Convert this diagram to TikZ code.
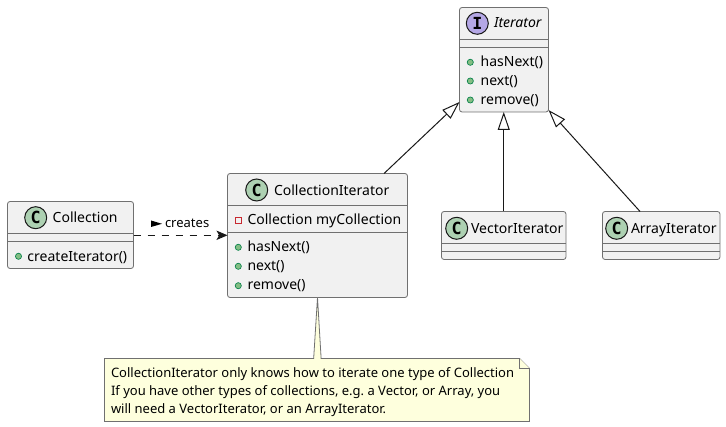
\documentclass[tikz,border=0pt]{standalone}
\usepackage{fontspec}
\setmainfont{Noto Sans}
\newfontfamily\glyphfont{DejaVu Sans Mono}
\usetikzlibrary{arrows.meta,calc}
\frenchspacing
\definecolor{boxfill}{HTML}{F1F1F1}
\definecolor{ln}{HTML}{181818}
\definecolor{bord}{HTML}{707070}
\definecolor{cgreen}{HTML}{ADD1B2}
\definecolor{ipurple}{HTML}{B4A7E5}
\definecolor{dotfill}{HTML}{84BE84}
\definecolor{dotline}{HTML}{038048}
\definecolor{privred}{HTML}{C82930}
\definecolor{notefill}{HTML}{FEFFDD}
\tikzset{
 x=0.75pt,y=-0.75pt,
 cbox/.style={draw=bord,fill=boxfill,line width=.6pt,rounded corners=1.9pt,inner sep=0,outer sep=0,rectangle},
 divider/.style={draw=bord,line width=.6pt},
 title/.style={anchor=base west,inner sep=0,outer sep=0,font=\fontsize{10.5pt}{12pt}\selectfont,text=black},
 member/.style={title},
 glyph/.style={circle,draw=ln,line width=.75pt,minimum size=16.5pt,inner sep=0,outer sep=0,font=\glyphfont\fontsize{12.5pt}{12pt}\selectfont\bfseries},
 pub/.style={circle,draw=dotline,fill=dotfill,line width=.5pt,minimum size=4.6pt,inner sep=0,outer sep=0},
 priv/.style={rectangle,draw=privred,line width=.6pt,minimum size=4.4pt,inner sep=0,outer sep=0},
 inh/.style={draw=ln,line width=.75pt,-{Triangle[open,fill=white,length=13.5pt,width=9pt,line width=.75pt]}},
 dep/.style={draw=ln,line width=.75pt,dash pattern=on 5.25pt off 5.25pt,-{Stealth[length=8.25pt,width=7pt,inset=2pt]}},
 notebox/.style={draw=bord,fill=notefill,line width=.6pt},
 notetext/.style={anchor=base west,inner sep=0,outer sep=0,font=\fontsize{9.75pt}{12pt}\selectfont,text=black},
}
\begin{document}
\begin{tikzpicture}
\useasboundingbox (0,0) rectangle (726,427);
\node[cbox,minimum width=180*0.75pt,minimum height=124*0.75pt] (citer) at (317.5,235.5) {};
\node[inner sep=0,outer sep=0,minimum size=0pt] (noteanchor) at (317.4,358.5) {};
\filldraw[notebox] (citer.south) -- ([xshift=2.8pt]noteanchor.center) -- (519.5,358.5) -- (529.5,368.5) -- (529.5,421.5) -- (104.5,421.5) -- (104.5,358.5) -- ([xshift=-2.8pt]noteanchor.center) -- cycle;
\draw[notebox] (519.5,358.5) -- (519.5,368.5) -- (529.5,368.5);
\node[notetext] (n1) at (111,377.7) {CollectionIterator only knows how to iterate one type of Collection};
\node[notetext] (n2) at (111,395.7) {If you have other types of collections, e.g. a Vector, or Array, you};
\node[notetext] (n3) at (111,413.4) {will need a VectorIterator, or an ArrayIterator.};
\node[cbox,minimum width=89*0.75pt,minimum height=104.5*0.75pt] (iter) at (504,59.75) {};
\node[cbox,minimum width=126*0.75pt,minimum height=67*0.75pt] (coll) at (70.5,235) {};
\node[cbox,minimum width=124.5*0.75pt,minimum height=48*0.75pt] (vec) at (503.75,235.5) {};
\node[cbox,minimum width=117.5*0.75pt,minimum height=48*0.75pt] (arr) at (661.25,235.5) {};
\foreach \n/\y in {iter/39.5,iter/47.5,coll/233.3,coll/241.3,citer/205.7,citer/232.3,vec/243.3,vec/251.3,arr/243.3,arr/251.3}
  \draw[divider] (\n.west |- 0,\y) -- (\n.east |- 0,\y);
\node[glyph,fill=ipurple] (gi) at (477.3,23.3) {I};
\node[glyph,fill=cgreen] (gc) at (35.7,217.7) {C};
\node[glyph,fill=cgreen] (gci) at (256.7,190) {C};
\node[glyph,fill=cgreen] (gv) at (456.7,228.3) {C};
\node[glyph,fill=cgreen] (ga) at (616.7,228.3) {C};
\node[title,font=\fontsize{10.5pt}{12pt}\selectfont\itshape] (ti) at (494,28) {Iterator};
\node[title] (tc) at (52.7,223) {Collection};
\node[title] (tci) at (274,195.7) {CollectionIterator};
\node[title] (tv) at (471,233.3) {VectorIterator};
\node[title] (ta) at (631,233.3) {ArrayIterator};
\node[pub] (d1) at (470.3,62.3) {}; \node[member] (m1) at (480.7,66.7) {hasNext()};
\node[pub] (d2) at (470.3,81) {};   \node[member] (m2) at (480.7,85.7) {next()};
\node[pub] (d3) at (470.3,100) {};  \node[member] (m3) at (480.7,104.7) {remove()};
\node[pub] (d4) at (18.5,256.3) {}; \node[member] (m4) at (27.5,261.7) {createIterator()};
\node[priv] (d5) at (238.3,220.7) {}; \node[member] (m5) at (247.5,224.3) {Collection myCollection};
\node[pub] (d6) at (238.3,247.3) {}; \node[member] (m6) at (247.5,251.7) {hasNext()};
\node[pub] (d7) at (238.3,266.3) {}; \node[member] (m7) at (247.5,270.7) {next()};
\node[pub] (d8) at (238.3,285.7) {}; \node[member] (m8) at (247.5,289.7) {remove()};
\draw[inh] ([xshift=49.9pt]citer.north) -- ([yshift=7.5pt]iter.south west);
\draw[inh] (vec.north) -- (vec.north |- iter.south);
\draw[inh] ([xshift=-15.9pt]arr.north) -- ([yshift=1.5pt]iter.south east);
\draw[dep] (coll.east |- 0,235.3) -- (citer.west |- 0,235.3);
\node[notetext] (lbl) at (165,227.7) {creates};
\fill[black] (151,220.5) -- (162,223.8) -- (151,227) -- cycle;
\end{tikzpicture}
\end{document}
